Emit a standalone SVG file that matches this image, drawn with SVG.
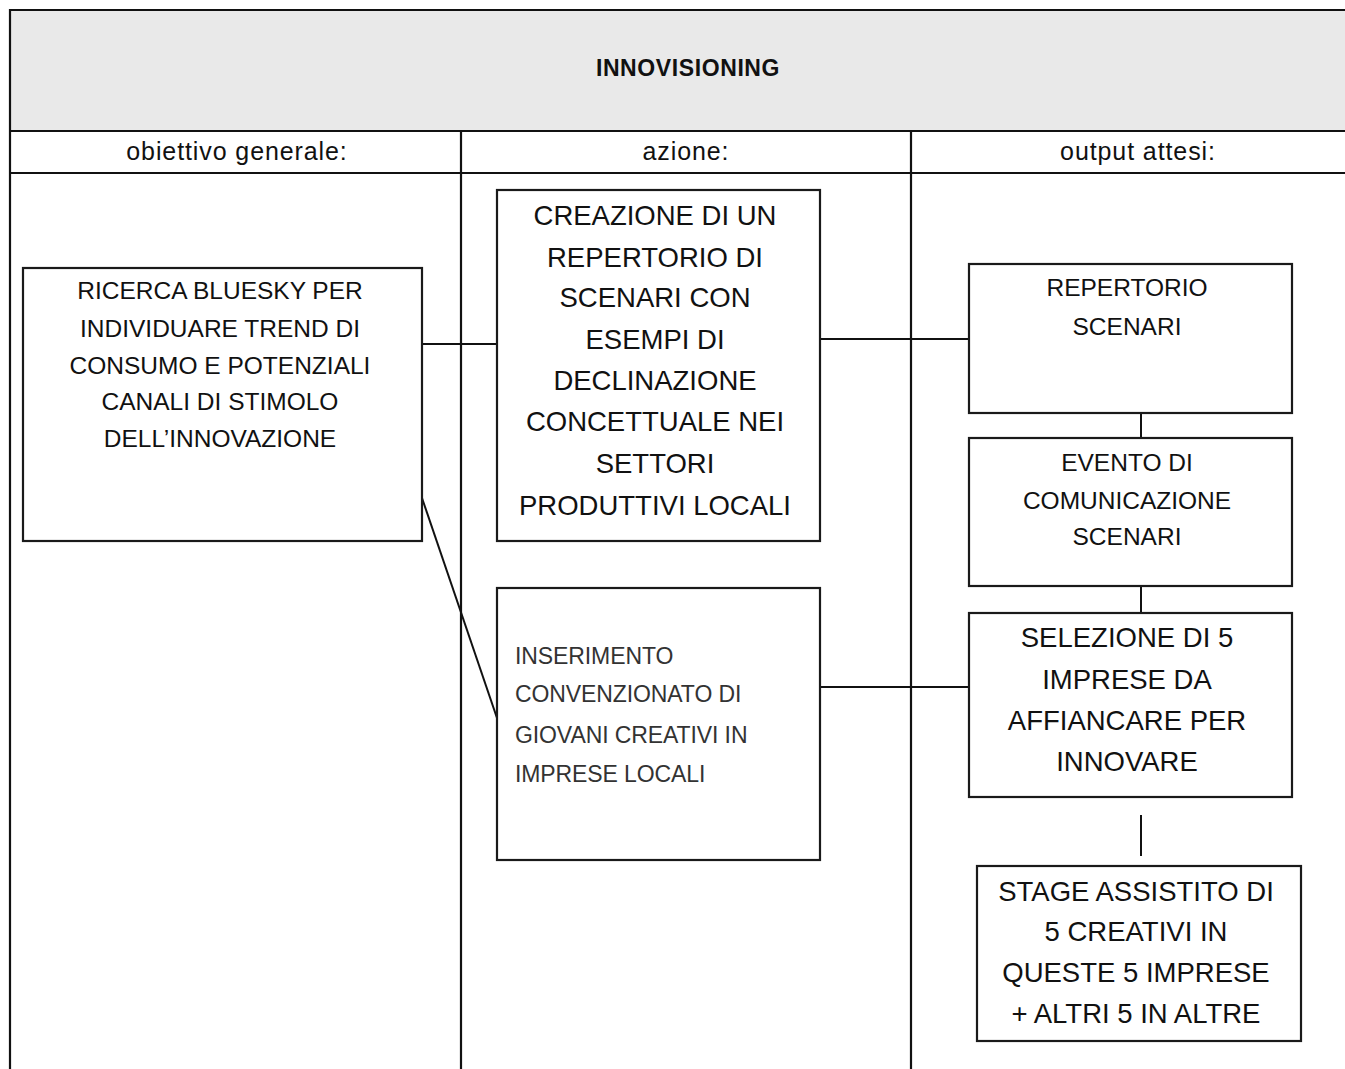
<svg xmlns="http://www.w3.org/2000/svg" width="1345" height="1069" viewBox="0 0 1345 1069">
  <style>
    .frame { stroke: #111; stroke-width: 2.2; fill: none; }
    .box { fill: #fff; stroke: #1a1a1a; stroke-width: 2.2; }
    .conn { stroke: #111; stroke-width: 2; fill: none; }
    text { font-family: "Liberation Sans", Arial, sans-serif; fill: #111; }
    .c { text-anchor: middle; }
    .title { font-size: 23px; font-weight: bold; letter-spacing: 0.6px; }
    .col { font-size: 25px; letter-spacing: 0.9px; }
    .m { font-size: 24.5px; }
    .l { font-size: 27.5px; }
    .thin { font-size: 23px; fill: #333; letter-spacing: -0.1px; }
  </style>
  <rect width="1345" height="1069" fill="#fff"/>
  <g id="table">
    <rect x="10" y="10" width="1345" height="121" fill="#e9e9e9" stroke="none"/>
    <line class="frame" x1="10" y1="10" x2="1345" y2="10" stroke-width="3"/>
    <line class="frame" x1="10" y1="9" x2="10" y2="1069"/>
    <line class="frame" x1="10" y1="131" x2="1345" y2="131"/>
    <line class="frame" x1="10" y1="173" x2="1345" y2="173"/>
    <line class="frame" x1="461" y1="131" x2="461" y2="1069"/>
    <line class="frame" x1="911" y1="131" x2="911" y2="1069"/>
    <text class="title c" x="688" y="76">INNOVISIONING</text>
    <text class="col c" x="237" y="160">obiettivo generale:</text>
    <text class="col c" x="686" y="160">azione:</text>
    <text class="col c" x="1138" y="160">output attesi:</text>
  </g>
  <g id="connectors">
    <line class="conn" x1="422" y1="344" x2="497" y2="344"/>
    <line class="conn" x1="422" y1="498" x2="497" y2="718"/>
    <line class="conn" x1="820" y1="339" x2="969" y2="339"/>
    <line class="conn" x1="820" y1="687" x2="969" y2="687"/>
    <line class="conn" x1="1141" y1="413" x2="1141" y2="438"/>
    <line class="conn" x1="1141" y1="586" x2="1141" y2="613"/>
    <line class="conn" x1="1141" y1="815" x2="1141" y2="856"/>
  </g>
  <g id="node-ricerca">
    <rect class="box" x="23" y="268" width="399" height="273"/>
    <text class="m c" x="220" y="299">RICERCA BLUESKY PER</text>
    <text class="m c" x="220" y="337">INDIVIDUARE TREND DI</text>
    <text class="m c" x="220" y="374">CONSUMO E POTENZIALI</text>
    <text class="m c" x="220" y="410">CANALI DI STIMOLO</text>
    <text class="m c" x="220" y="447">DELL’INNOVAZIONE</text>
  </g>
  <g id="node-creazione">
    <rect class="box" x="497" y="190" width="323" height="351"/>
    <text class="l c" x="655" y="225">CREAZIONE DI UN</text>
    <text class="l c" x="655" y="267">REPERTORIO DI</text>
    <text class="l c" x="655" y="307">SCENARI CON</text>
    <text class="l c" x="655" y="349">ESEMPI DI</text>
    <text class="l c" x="655" y="390">DECLINAZIONE</text>
    <text class="l c" x="655" y="431">CONCETTUALE NEI</text>
    <text class="l c" x="655" y="473">SETTORI</text>
    <text class="l c" x="655" y="515">PRODUTTIVI LOCALI</text>
  </g>
  <g id="node-inserimento">
    <rect class="box" x="497" y="588" width="323" height="272"/>
    <text class="thin" x="515" y="664">INSERIMENTO</text>
    <text class="thin" x="515" y="702">CONVENZIONATO DI</text>
    <text class="thin" x="515" y="743">GIOVANI CREATIVI IN</text>
    <text class="thin" x="515" y="782">IMPRESE LOCALI</text>
  </g>
  <g id="node-repertorio">
    <rect class="box" x="969" y="264" width="323" height="149"/>
    <text class="m c" x="1127" y="296">REPERTORIO</text>
    <text class="m c" x="1127" y="335">SCENARI</text>
  </g>
  <g id="node-evento">
    <rect class="box" x="969" y="438" width="323" height="148"/>
    <text class="m c" x="1127" y="471">EVENTO DI</text>
    <text class="m c" x="1127" y="509">COMUNICAZIONE</text>
    <text class="m c" x="1127" y="545">SCENARI</text>
  </g>
  <g id="node-selezione">
    <rect class="box" x="969" y="613" width="323" height="184"/>
    <text class="l c" x="1127" y="647">SELEZIONE DI 5</text>
    <text class="l c" x="1127" y="689">IMPRESE DA</text>
    <text class="l c" x="1127" y="730">AFFIANCARE PER</text>
    <text class="l c" x="1127" y="771">INNOVARE</text>
  </g>
  <g id="node-stage">
    <rect class="box" x="977" y="866" width="324" height="175"/>
    <text class="l c" x="1136" y="901">STAGE ASSISTITO DI</text>
    <text class="l c" x="1136" y="941">5 CREATIVI IN</text>
    <text class="l c" x="1136" y="982">QUESTE 5 IMPRESE</text>
    <text class="l c" x="1136" y="1023">+ ALTRI 5 IN ALTRE</text>
  </g>
</svg>
